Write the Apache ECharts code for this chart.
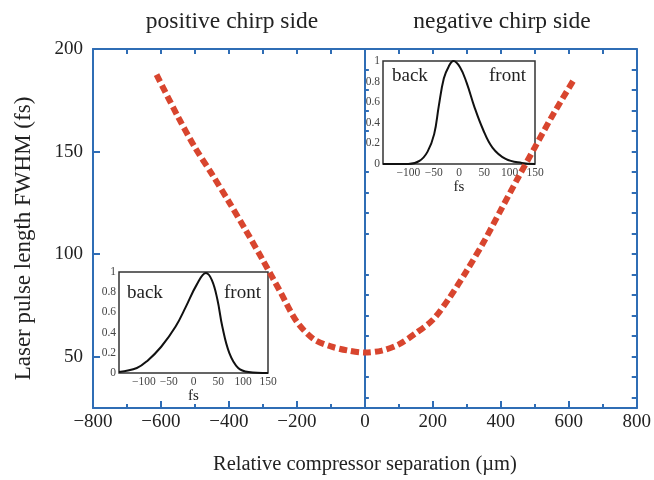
<!DOCTYPE html>
<html>
<head>
<meta charset="utf-8">
<script src="https://cdn.jsdelivr.net/npm/echarts@6/dist/echarts.min.js"></script>
<style>
  html, body { margin: 0; padding: 0; background: #fff; }
  #chart { width: 654px; height: 480px; }
</style>
</head>
<body>
<div id="chart"></div>
<script>
  // main curve: compressor separation (um) vs pulse FWHM (fs)
  var separation = [-613, -550, -500, -450, -400, -350, -300, -250, -200, -150, -100, -50, 0,
    50, 100, 150, 200, 250, 300, 350, 400, 450, 500, 550, 613];
  var fwhm = [187.5, 167, 152, 139, 125.5, 111.5, 97, 82, 67, 58.5, 55, 53, 52,
    53, 56, 61.5, 68, 79, 92, 106, 121.5, 137, 152, 167, 184.5];

  // inset on negative side (peak leans back)
  var negT = [-150, -100, -78, -62, -49, -40, -30, -20, -11, 2, 15, 30, 47, 66, 92, 124, 150];
  var negI = [0, 0, 0.03, 0.12, 0.29, 0.56, 0.83, 0.95, 1.0, 0.94, 0.79, 0.56, 0.34, 0.16, 0.05, 0.01, 0];

  // inset on positive side (peak leans front)
  var posT = [-150, -114, -93, -65, -36, -15, 6, 25, 37, 48, 58, 72, 90, 111, 150];
  var posI = [0.01, 0.05, 0.12, 0.26, 0.46, 0.66, 0.87, 0.99, 0.92, 0.73, 0.46, 0.2, 0.05, 0.01, 0];

  var yMajor = [50, 100, 150, 200];
  var yMinor = [30, 40, 60, 70, 80, 90, 110, 120, 130, 140, 160, 170, 180, 190];
  var yAll = [30, 40, 50, 60, 70, 80, 90, 100, 110, 120, 130, 140, 150, 160, 170, 180, 190];

  var blue = '#2f6db5';
  var font = 'Liberation Serif';
  var ink = '#222';

  function zip(a, b) {
    var out = [];
    for (var i = 0; i < a.length; i++) out.push([a[i], b[i]]);
    return out;
  }
  function minus(v) { return String(v).replace('-', '\u2212'); }

  var chart = echarts.init(document.getElementById('chart'), null, {renderer: 'canvas'});

  var insetX = function (grid) {
    return {
      type: 'value', gridIndex: grid, min: -150, max: 150, interval: 50,
      name: 'fs', nameLocation: 'middle', nameGap: 16,
      nameTextStyle: {fontFamily: font, fontSize: 15, color: ink},
      axisLine: {show: false}, axisTick: {show: false}, splitLine: {show: false},
      axisLabel: {
        fontFamily: font, fontSize: 11.5, color: '#444', margin: 3,
        formatter: function (v) { return v === -150 ? '' : minus(v); }
      }
    };
  };
  var insetY = function (grid) {
    return {
      type: 'value', gridIndex: grid, min: 0, max: 1, interval: 0.2,
      axisLine: {show: false}, axisTick: {show: false}, splitLine: {show: false},
      axisLabel: {fontFamily: font, fontSize: 11.5, color: '#444', margin: 3}
    };
  };

  var option = {
    backgroundColor: '#fff',
    animation: false,
    title: [
      {text: 'positive chirp side', left: 227, top: 5, textAlign: 'center',
        textStyle: {fontFamily: font, fontSize: 23.5, fontWeight: 'normal', color: ink}},
      {text: 'negative chirp side', left: 497, top: 5, textAlign: 'center',
        textStyle: {fontFamily: font, fontSize: 23.5, fontWeight: 'normal', color: ink}}
    ],
    grid: [
      {left: 93, right: 16, top: 49, bottom: 72},
      {left: 383, top: 61, width: 152, height: 103, show: true,
        borderColor: '#333', borderWidth: 1.5, backgroundColor: 'rgba(0,0,0,0)'},
      {left: 119, top: 272, width: 149, height: 101, show: true,
        borderColor: '#333', borderWidth: 1.5, backgroundColor: 'rgba(0,0,0,0)'}
    ],
    xAxis: [
      {
        type: 'value', gridIndex: 0, min: -800, max: 800, interval: 200, position: 'bottom',
        name: 'Relative compressor separation (\u00b5m)', nameLocation: 'middle', nameGap: 46,
        nameTextStyle: {fontFamily: font, fontSize: 20.5, color: ink},
        axisLine: {onZero: false, lineStyle: {color: blue, width: 2}},
        axisTick: {inside: true, length: 7, lineStyle: {color: blue, width: 2}},
        minorTick: {show: true, splitNumber: 2, length: 4, lineStyle: {color: blue, width: 2}},
        splitLine: {show: false},
        axisLabel: {fontFamily: font, fontSize: 19, color: ink, margin: 5, formatter: minus}
      },
      {
        type: 'value', gridIndex: 0, min: -800, max: 800, interval: 100, position: 'top',
        axisLine: {onZero: false, lineStyle: {color: blue, width: 2}},
        axisTick: {inside: true, length: 5, lineStyle: {color: blue, width: 2}},
        axisLabel: {show: false}, splitLine: {show: false}
      },
      insetX(1),
      insetX(2)
    ],
    yAxis: [
      {
        type: 'value', gridIndex: 0, min: 25, max: 200, position: 'left',
        name: 'Laser pulse length FWHM (fs)', nameLocation: 'middle', nameGap: 58,
        nameTextStyle: {fontFamily: font, fontSize: 23, color: ink, padding: [0, 20, 0, 0]},
        axisLine: {onZero: false, lineStyle: {color: blue, width: 2}},
        axisTick: {inside: true, length: 7, customValues: yMajor, lineStyle: {color: blue, width: 2}},
        axisLabel: {customValues: yMajor, fontFamily: font, fontSize: 19, color: ink, margin: 10},
        splitLine: {show: false}
      },
      {
        type: 'value', gridIndex: 0, min: 25, max: 200, position: 'left',
        axisLine: {show: false},
        axisTick: {inside: true, length: 4, customValues: yMinor, lineStyle: {color: blue, width: 2}},
        axisLabel: {show: false}, splitLine: {show: false}
      },
      {
        type: 'value', gridIndex: 0, min: 25, max: 200, position: 'right',
        axisLine: {onZero: false, lineStyle: {color: blue, width: 2}},
        axisTick: {inside: true, length: 5, customValues: yAll, lineStyle: {color: blue, width: 2}},
        axisLabel: {show: false}, splitLine: {show: false}
      },
      insetY(1),
      insetY(2)
    ],
    graphic: [
      {type: 'text', left: 392, top: 67, style: {text: 'back', font: '19px "Liberation Serif"', fill: ink}},
      {type: 'text', left: 489, top: 67, style: {text: 'front', font: '19px "Liberation Serif"', fill: ink}},
      {type: 'text', left: 127, top: 284, style: {text: 'back', font: '19px "Liberation Serif"', fill: ink}},
      {type: 'text', left: 224, top: 284, style: {text: 'front', font: '19px "Liberation Serif"', fill: ink}}
    ],
    series: [
      {
        type: 'line', xAxisIndex: 0, yAxisIndex: 0,
        data: zip(separation, fwhm), smooth: 0.3, showSymbol: false, z: 5,
        lineStyle: {color: '#d8452e', width: 6, type: [8, 4]},
        markLine: {
          silent: true, symbol: 'none', label: {show: false},
          lineStyle: {color: blue, width: 2, type: 'solid'},
          data: [{xAxis: 0}]
        }
      },
      {
        type: 'line', xAxisIndex: 2, yAxisIndex: 3,
        data: zip(negT, negI), smooth: 0.4, showSymbol: false,
        lineStyle: {color: '#111', width: 2}
      },
      {
        type: 'line', xAxisIndex: 3, yAxisIndex: 4,
        data: zip(posT, posI), smooth: 0.4, showSymbol: false,
        lineStyle: {color: '#111', width: 2}
      }
    ]
  };

  chart.setOption(option);
</script>
</body>
</html>
